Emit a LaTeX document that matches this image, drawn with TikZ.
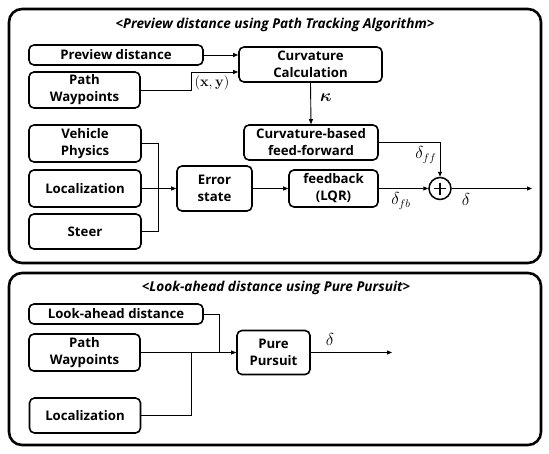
\documentclass[tikz,border=0pt]{standalone}
\usepackage{amsmath}
\usepackage[no-math]{fontspec}
\setmainfont{Open Sans}
\usetikzlibrary{arrows.meta,calc}
\begin{document}
\begin{tikzpicture}[x=1pt,y=-1pt,
  box/.style={draw, line width=1.6pt, rounded corners=5pt, align=center, inner sep=0pt,
    font=\bfseries\fontsize{13.2}{17}\selectfont},
  frame/.style={draw, line width=2.6pt, rounded corners=13pt, inner sep=0pt},
  ttl/.style={font=\bfseries\itshape\fontsize{13.6}{15}\selectfont},
  wire/.style={line width=0.9pt},
  arr/.style={wire, -{Triangle[length=5pt,width=4pt]}},
  lbl/.style={font=\fontsize{16}{17}\selectfont, inner sep=0pt}]
\useasboundingbox (0,0) rectangle (549,453);
% frames
\node[frame, minimum width=532pt, minimum height=254pt] (frameA) at (275,136) {};
\node[frame, minimum width=532pt, minimum height=172pt] (frameB) at (275,359) {};
\node[ttl] (titleA) at (275,25) {<Preview distance using Path Tracking Algorithm>};
\node[ttl] (titleB) at (276,288) {<Look-ahead distance using Pure Pursuit>};
% top diagram
\node[box, minimum width=174pt, minimum height=20pt] (prev) at (116,55) {Preview distance};
\node[box, minimum width=111pt, minimum height=36pt] (pathA) at (84.5,90) {Path\\Waypoints};
\node[box, minimum width=143pt, minimum height=35pt] (curv) at (310.5,64.5) {Curvature\\Calculation};
\node[box, minimum width=134pt, minimum height=35pt] (ff) at (311,142.5) {Curvature-based\\feed-forward};
\node[box, minimum width=112pt, minimum height=37pt] (veh) at (85,143.5) {Vehicle\\Physics};
\node[box, minimum width=112pt, minimum height=37pt] (locA) at (85,188.5) {Localization};
\node[box, minimum width=112pt, minimum height=35pt] (steer) at (85,231.5) {Steer};
\node[box, minimum width=75pt, minimum height=45pt] (err) at (214.5,188.5) {Error\\state};
\node[box, minimum width=89pt, minimum height=37pt] (fb) at (333.5,188.5) {feedback\\(LQR)};
\node[draw, circle, line width=1.5pt, minimum size=22pt, inner sep=0pt] (sum) at (440,188.5) {};
\draw[line width=1.7pt] ($(sum)+(-6,0)$) -- ($(sum)+(6,0)$) ($(sum)+(0,-6)$) -- ($(sum)+(0,6)$);
\coordinate (outA) at (532,188.5);

\draw[arr] (prev.east) -- (prev.east -| curv.west);
\draw[arr] (pathA.east) -- ($(pathA.east)+(51,0)$) |- ($(curv.west)+(0,7.5)$);
\node[lbl, font=\fontsize{13.5}{14}\selectfont] (xy) at (212,83) {$(\mathbf{x},\mathbf{y})$};
\draw[arr] (curv.south) -- (ff.north);
\node[lbl] (kap) at (326,98) {$\boldsymbol{\kappa}$};
\draw[wire] (veh.east) -| ($(steer.east)+(17,0)$) -- (steer.east);
\draw[arr] (locA.east) -- (err.west);
\draw[arr] (err.east) -- (fb.west);
\draw[arr] (fb.east) -- (sum.west);
\draw[arr] (ff.east) -| (sum.north);
\draw[arr] (sum.east) -- (outA);
\node[lbl] (dff) at (426,155) {$\delta_{ff}$};
\node[lbl] (dfb) at (401,201) {$\delta_{fb}$};
\node[lbl] (dA) at (466,199) {$\delta$};
% bottom diagram
\node[box, minimum width=174pt, minimum height=20pt] (look) at (116,314) {Look-ahead distance};
\node[box, minimum width=111pt, minimum height=37pt] (pathB) at (84.5,352.5) {Path\\Waypoints};
\node[box, minimum width=111pt, minimum height=35pt] (locB) at (85,415.5) {Localization};
\node[box, minimum width=73pt, minimum height=44pt] (pp) at (273.5,352.5) {Pure\\Pursuit};
\coordinate (outB) at (392,352.5);
\draw[wire] (look.east) -| ($(pp.west)+(-17,0)$);
\draw[arr] (pathB.east) -- (pp.west);
\draw[wire] (locB.east) -| ($(pathB.east)+(51,0)$);
\draw[arr] (pp.east) -- (outB);
\node[lbl] (dB) at (330,339) {$\delta$};
\end{tikzpicture}
\end{document}
